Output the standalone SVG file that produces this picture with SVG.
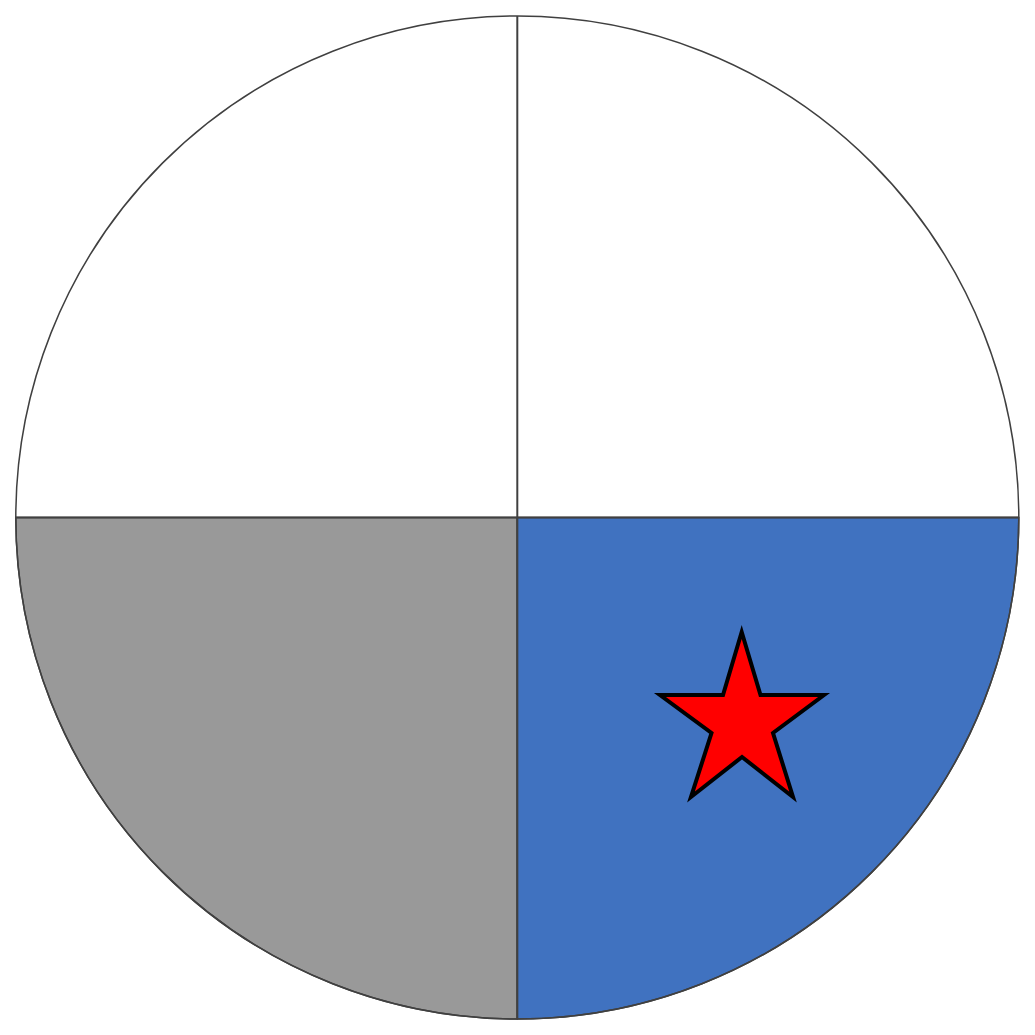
<svg xmlns="http://www.w3.org/2000/svg" width="1035" height="1035" viewBox="0 0 1035 1035">
<style>
.q{stroke:#404040;stroke-width:1.5}
.l{stroke:#404040;stroke-width:2;fill:none}
</style>
<rect width="1035" height="1035" fill="#ffffff"/>
<g id="quadrants">
<path id="q-bl" class="q" d="M517.3,517.5 L15.8,517.5 A501.5,501.5 0 0 0 517.3,1019 Z" fill="#999999"/>
<path id="q-br" class="q" d="M517.3,517.5 L517.3,1019 A501.5,501.5 0 0 0 1018.8,517.5 Z" fill="#4072c0"/>
<circle id="circle" cx="517.3" cy="517.5" r="501.5" fill="none" stroke="#404040" stroke-width="1.5"/>
</g>
<g id="lines">
<line class="l" x1="517.3" y1="16" x2="517.3" y2="1019"/>
<line class="l" x1="15.8" y1="517.5" x2="1018.8" y2="517.5"/>
</g>
<g id="star">
<polygon points="741.7,632 760.5,695 824,695 773,733 793,797 742,757 691,797 711.5,733 660,695 723,695" fill="#ff0000" stroke="#000000" stroke-width="4" stroke-linejoin="miter"/>
</g>
</svg>
